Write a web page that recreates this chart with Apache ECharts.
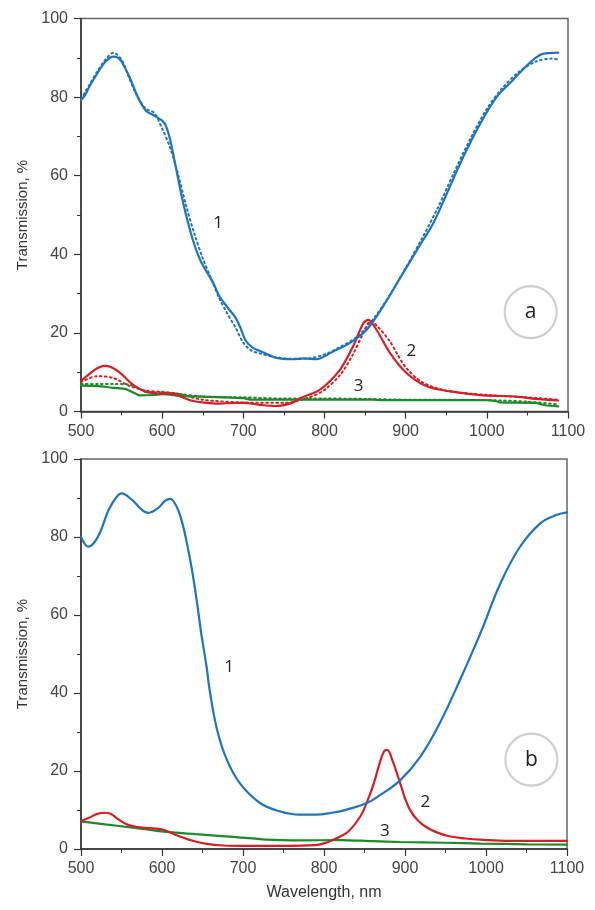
<!DOCTYPE html>
<html>
<head>
<meta charset="utf-8">
<script src="https://cdn.jsdelivr.net/npm/echarts@6/dist/echarts.min.js"></script>
<style>
html,body{margin:0;padding:0;background:#fff;}
#chart{width:595px;height:910px;}
</style>
</head>
<body>
<div id="chart"></div>
<script>
// ---------- Panel a (top) ----------
const aBlue = [[500,79.2],[505,80.5],[510,82.5],[520,86],[530,89],[540,90.3],[545,90.1],[550,89],[560,85],[570,80],[580,76.5],[590,75.3],[600,74],[605,72.5],[610,69],[616,63],[626,53],[638,43.5],[647,38.5],[655,35.5],[663,32.7],[670,29.5],[680,26.6],[690,24],[696,21.5],[703,18],[712,16.2],[725,15],[741,13.6],[760,13.3],[775,13.5],[790,13.3],[811,15.3],[831,17.4],[852,20.8],[872,26.7],[893,33.9],[914,41.1],[934,47.9],[948,54.2],[971,64.8],[992,73.3],[1012,80],[1032,84.3],[1049,88],[1060,90],[1069,91],[1088,91.3]];
const aBlueFit = [[500,79.5],[510,83],[520,86.5],[530,89.5],[540,91.3],[550,89.5],[560,84.5],[570,80],[580,77],[590,76],[600,72],[610,67],[620,60],[630,52],[640,45],[650,39],[660,34],[670,29],[680,25],[690,21.5],[700,17.5],[710,15.5],[720,14.8],[740,13.8],[760,13.4],[780,13.5],[800,14.5],[820,16.5],[840,19],[860,23.5],[880,29.5],[900,36.5],[920,44],[940,52],[960,61],[980,69.5],[1000,77],[1020,82.5],[1040,86.5],[1060,89],[1080,89.8],[1088,89.6]];
const aRed = [[500,7.8],[510,9.5],[520,11],[530,11.6],[540,11],[550,9.5],[560,7.5],[570,6],[580,5],[590,4.7],[600,4.5],[610,4.6],[620,4],[630,3.2],[640,2.6],[650,2.3],[670,2],[690,2.2],[700,2.2],[720,1.7],[740,1.4],[760,2.2],[770,3.4],[794,5.5],[819,10.6],[835,16.5],[848,22.5],[854,23.3],[864,20.8],[881,14.8],[901,9.8],[926,6.4],[955,5.1],[996,4.1],[1037,3.8],[1060,3.2],[1088,2.8]];
const aRedFit = [[500,7.5],[520,9],[540,8.5],[560,6.5],[580,5.3],[600,5],[620,4.5],[650,3],[700,2.3],[750,2.2],[780,3.5],[800,5.5],[820,9.5],[835,14.5],[848,20],[857,23],[866,21.5],[880,18],[890,14.5],[901,11],[920,7.5],[950,5.3],[1000,4.2],[1050,3.6],[1088,3]];
const aGreen = [[500,6.6],[520,6.5],[540,6],[555,5.7],[565,4.8],[572,4.1],[590,4.2],[600,4.4],[610,4.3],[620,4],[650,3.8],[700,3.4],[710,3.0],[800,3.0],[860,3.0],[870,2.9],[1000,2.9],[1012,2.6],[1016,2.3],[1060,2.2],[1072,1.6],[1088,1.3]];
const aGreenFit = [[500,7],[520,7],[540,7],[560,6.8],[570,6],[580,5],[600,4.8],[620,4.5],[650,3.8],[700,3.6],[750,3.3],[800,3.3],[850,3.2],[900,3],[1000,2.9],[1050,2.5],[1088,1.8]];

// ---------- Panel b (bottom) ----------
const bBlue = [[500,80.1],[509,77.5],[521,80.1],[534,86.9],[543,90],[550,91.2],[563,89.5],[575,87],[583,86.2],[595,87.4],[604,89.3],[610,89.8],[618,87.8],[624,84.4],[630,79.2],[637,71.6],[643,63.5],[649,54.5],[655,46.8],[659,40.5],[668,30.6],[680,22.9],[696,16.9],[721,11.8],[746,9.6],[770,8.8],[790,8.8],[810,9.3],[828,10.1],[853,11.8],[869,13.8],[894,17.6],[919,23.7],[943,32.3],[968,43.4],[993,55.3],[1018,68.2],[1042,77.5],[1067,83.5],[1085,85.5],[1100,86.3]];
const bRed = [[500,7.1],[510,8],[520,9],[530,9.3],[537,9],[545,7.8],[555,6.5],[565,5.8],[580,5.4],[598,5.1],[606,4.6],[614,3.9],[625,3],[638,2.1],[655,1.3],[676,0.9],[700,0.8],[750,0.8],[790,1],[805,1.8],[816,2.8],[830,4.5],[845,8.4],[853,12],[861,16.5],[868,21.5],[874,25],[878,25.4],[884,23],[894,16.9],[900,13],[906,10.1],[915,7.5],[927,5.5],[940,4.2],[956,3.2],[975,2.7],[993,2.4],[1030,2.1],[1100,2.1]];
const bGreen = [[500,7.1],[530,6.3],[564,5.5],[600,4.5],[642,3.8],[688,3.1],[729,2.4],[770,2.2],[820,2.3],[860,2.0],[894,1.8],[950,1.6],[993,1.4],[1050,1.2],[1100,1.1]];

// ---------- Axes / labels ----------
const xTicks = [500,600,700,800,900,1000,1100];
const yTicks = [0,20,40,60,80,100];
const xTitle = 'Wavelength, nm';
const yTitle = 'Transmission, %';
// annotations: [text, grid, wavelength, value]
const curveLabels = [['1',0,669,48],['2',0,907,15.3],['3',0,842,6.4],['1',1,683,46.5],['2',1,925,11.9],['3',1,875,4.5]];
const panelLabels = [['a',0,1054,25.3],['b',1,1056,22.9]];

const BLUE='#1f74bb', RED='#d41f26', GREEN='#1d8a2a';
const FONT='Liberation Sans, Arial, sans-serif';

const chart = echarts.init(document.getElementById('chart'));

function xAxis(gi, withName){
  return {
    type:'value', gridIndex:gi, min:xTicks[0], max:xTicks[xTicks.length-1], interval:100,
    axisLine:{show:true, lineStyle:{color:'#333', width:1.5}},
    axisTick:{show:true, length:7, lineStyle:{color:'#333', width:1.2}},
    minorTick:{show:true, splitNumber:2, length:4, lineStyle:{color:'#333', width:1}},
    splitLine:{show:false},
    axisLabel:{color:'#444', fontSize:16, fontFamily:FONT, margin:12, formatter:function(v){return String(v);}},
    name: withName ? xTitle : '', nameLocation:'middle', nameGap:36,
    nameTextStyle:{color:'#333', fontSize:16, fontFamily:FONT}
  };
}
function yAxis(gi){
  return {
    type:'value', gridIndex:gi, min:yTicks[0], max:yTicks[yTicks.length-1], interval:20,
    axisLine:{show:true, lineStyle:{color:'#333', width:1.5}},
    axisTick:{show:true, length:7, lineStyle:{color:'#333', width:1.2}},
    minorTick:{show:true, splitNumber:2, length:4, lineStyle:{color:'#333', width:1}},
    splitLine:{show:false},
    axisLabel:{color:'#444', fontSize:16, fontFamily:FONT, margin:13, formatter:function(v){return String(v);}},
    name: yTitle, nameLocation:'middle', nameGap:50,
    nameTextStyle:{color:'#333', fontSize:15, fontFamily:FONT}
  };
}
function line(gi, data, color, dotted, smooth){
  return {
    type:'line', xAxisIndex:gi, yAxisIndex:gi, data:data, showSymbol:false, symbol:'none',
    smooth: smooth, animation:false, z: dotted?2:3,
    lineStyle:{color:color, width: dotted?2:2.2, type: dotted?[1.6,3.4]:'solid', cap:'round'}
  };
}

chart.setOption({
  animation:false,
  backgroundColor:'#fff',
  grid:[
    {left:81, top:18.5, width:487, height:393, show:true, borderColor:'#666', borderWidth:1.5, backgroundColor:'transparent'},
    {left:81, top:459, width:486, height:390, show:true, borderColor:'#666', borderWidth:1.5, backgroundColor:'transparent'}
  ],
  xAxis:[xAxis(0,false), xAxis(1,true)],
  yAxis:[yAxis(0), yAxis(1)],
  series:[
    line(0,aBlueFit,BLUE,true,0.3),
    line(0,aRedFit,RED,true,0.3),
    line(0,aGreenFit,GREEN,true,0.3),
    line(0,aGreen,GREEN,false,0.2),
    line(0,aRed,RED,false,0.3),
    line(0,aBlue,BLUE,false,0.3),
    line(1,bGreen,GREEN,false,0.3),
    line(1,bRed,RED,false,0.4),
    line(1,bBlue,BLUE,false,0.4)
  ]
});

const g = [];
curveLabels.forEach(function(c){
  const p = chart.convertToPixel({gridIndex:c[1]}, [c[2], c[3]]);
  g.push({type:'text', x:p[0], y:p[1], z:10, style:{text:c[0], fill:'#222', font:'17px "Open Sans", sans-serif', align:'center', verticalAlign:'middle'}});
});
panelLabels.forEach(function(c){
  const p = chart.convertToPixel({gridIndex:c[1]}, [c[2], c[3]]);
  g.push({type:'circle', shape:{cx:p[0], cy:p[1], r:26}, z:9, style:{fill:'#fff', stroke:'#cfcfcf', lineWidth:2.2}});
  g.push({type:'text', x:p[0], y:p[1], z:10, style:{text:c[0], fill:'#222', font:'21px "Open Sans", sans-serif', align:'center', verticalAlign:'middle'}});
});
chart.setOption({graphic:g});
</script>
</body>
</html>
